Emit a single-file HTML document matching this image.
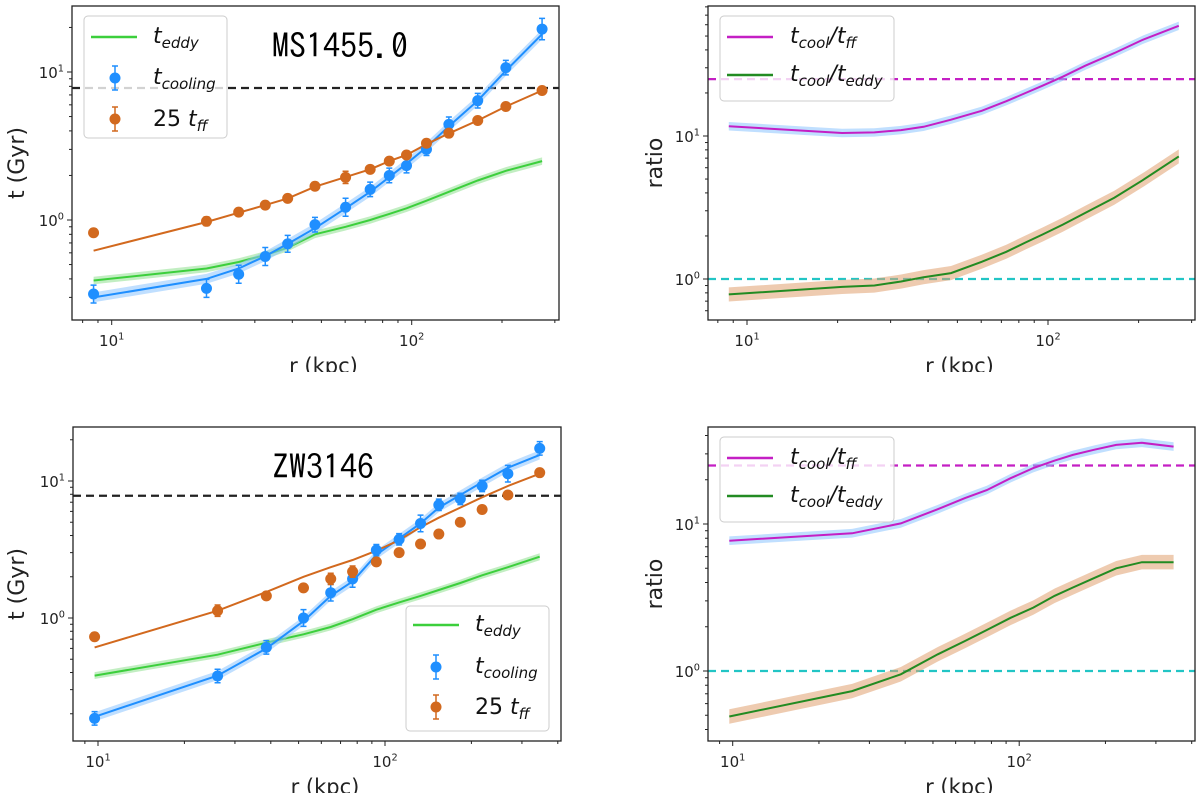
<!DOCTYPE html>
<html><head><meta charset="utf-8">
<style>
html,body{margin:0;padding:0;background:#fff;}
svg{display:block;}
text{font-family:"DejaVu Sans","Liberation Sans",sans-serif;}
</style></head>
<body>
<svg id="fig" xmlns="http://www.w3.org/2000/svg" width="1200" height="793" viewBox="0 0 1200 793"></svg>
<script>
// ---------- DATA ----------
const R1 = [8.7,20.7,26.5,32.5,38.6,47.6,60.2,72.7,84.2,96.1,112,133,166,206,272];
const cool1 = [0.316,0.345,0.43,0.567,0.69,0.93,1.22,1.61,2.0,2.33,3.0,4.43,6.4,10.7,19.5];
const coolErr1 = [0.15,0.15,0.15,0.15,0.14,0.12,0.15,0.12,0.12,0.12,0.1,0.12,0.12,0.12,0.18];
const ff1 = [0.82,0.98,1.13,1.26,1.40,1.69,1.94,2.2,2.5,2.75,3.3,3.86,4.7,5.85,7.5];
const ffErr1 = [0.0,0.07,0.03,0.04,0.04,0.04,0.1,0.04,0.04,0.05,0.03,0.03,0.03,0.03,0.03];
const coolFit1 = [0.30,0.40,0.47,0.57,0.69,0.88,1.2,1.55,1.95,2.4,3.1,4.3,6.4,10.2,18];
const ffFit1 = [0.62,0.97,1.12,1.26,1.40,1.68,1.95,2.2,2.5,2.75,3.25,3.85,4.7,5.85,7.5];
const eddy1 = [0.39,0.47,0.52,0.58,0.65,0.80,0.9,1.0,1.1,1.2,1.35,1.55,1.85,2.15,2.5];
const ratioFF2 = [11.7,10.5,10.6,11.0,11.6,13.0,15.0,17.5,20.0,22.5,26,31,38,47,59];
const ratioEddy2 = [0.78,0.88,0.90,0.96,1.03,1.10,1.32,1.55,1.8,2.05,2.4,2.9,3.7,4.9,7.2];

const R3 = [9.73,26.1,38.6,52,64.7,77.1,93.3,112,133,154,183,218,268,346];
const cool3 = [0.185,0.377,0.61,1.0,1.53,1.93,3.13,3.75,4.9,6.7,7.4,9.2,11.3,17.3];
const coolErr3 = [0.12,0.12,0.12,0.15,0.15,0.15,0.1,0.1,0.15,0.1,0.1,0.1,0.15,0.12];
const ff3 = [0.73,1.13,1.45,1.66,1.93,2.18,2.57,3.0,3.47,4.1,5.0,6.2,7.9,11.5];
const ffErr3 = [0.0,0.1,0.0,0.0,0.1,0.1,0.0,0.0,0.0,0.05,0.0,0.0,0.0,0.0];
const coolFit3 = [0.19,0.38,0.60,0.95,1.45,1.85,2.9,3.8,4.9,6.4,7.9,9.8,12.5,15.5];
const ffFit3 = [0.61,1.13,1.55,2.0,2.35,2.65,3.1,3.7,4.6,5.4,6.4,7.6,9.2,11.3];
const eddy3 = [0.38,0.54,0.66,0.76,0.86,0.98,1.15,1.3,1.45,1.6,1.8,2.05,2.35,2.8];
const ratioFF4 = [7.7,8.65,10.1,12.6,15,17,20.5,24,27,29.5,32,34.5,35.7,33.6];
const ratioEddy4 = [0.49,0.73,0.95,1.3,1.6,1.9,2.3,2.7,3.25,3.7,4.3,5.0,5.5,5.5];

const threshTop = 7.8, threshBot = 7.8, ratioFFLine = 25, ratioEddyLine = 1;
const xMajor = [10,100];
const yMajor = [1,10];

// ---------- DRAWING ----------
const NS = "http://www.w3.org/2000/svg";
const fig = document.getElementById('fig');
function mk(tag, attrs, parent){
  const e = document.createElementNS(NS, tag);
  for (const k in attrs) e.setAttribute(k, attrs[k]);
  (parent||fig).appendChild(e);
  return e;
}
function makeAxes(x0,x1,y0,y1,xRef,xDec,yRef,yDec){
  return {x0,x1,y0,y1,
    X: r => xRef + (Math.log10(r)-1)*xDec,
    Y: v => yRef - (Math.log10(v)-1)*yDec};
}
function linePath(ax, xs, ys){
  return xs.map((r,i)=>(i?'L':'M')+ax.X(r).toFixed(1)+','+ax.Y(ys[i]).toFixed(1)).join(' ');
}
function bandPath(ax, xs, ys, rel){
  let d = xs.map((r,i)=>(i?'L':'M')+ax.X(r).toFixed(1)+','+ax.Y(ys[i]*(1+rel)).toFixed(1)).join(' ');
  for (let i=xs.length-1;i>=0;i--) d += ' L'+ax.X(xs[i]).toFixed(1)+','+ax.Y(ys[i]/(1+rel)).toFixed(1);
  return d+' Z';
}
function clipFor(ax, id){
  const cp = mk('clipPath',{id:id});
  mk('rect',{x:ax.x0,y:ax.y0,width:ax.x1-ax.x0,height:ax.y1-ax.y0},cp);
}
function supText(parent, x, y, base, exp, anchor, size){
  const t = mk('text',{x:x,y:y,'font-size':size,'text-anchor':anchor,fill:'#222'},parent);
  t.appendChild(document.createTextNode(base));
  const s = mk('tspan',{'font-size':size*0.65,dy:-size*0.42},t);
  s.textContent = exp;
  return t;
}
function frame(ax, g, ylabel, ylabX){
  const sp = mk('rect',{x:ax.x0,y:ax.y0,width:ax.x1-ax.x0,height:ax.y1-ax.y0,fill:'none',stroke:'#222','stroke-width':1.3},g);
  
  
  for (let d=1; d<=1000; d*=10){
    for (let m=1;m<10;m++){
      const v=m*d, px=ax.X(v);
      if (px<ax.x0-0.5||px>ax.x1+0.5) continue;
      const len = m===1?5:3;
      const tk = mk('line',{x1:px,x2:px,y1:ax.y1,y2:ax.y1+len,stroke:'#222','stroke-width':1},g);
      
      
    }
  }
  xMajor.forEach(v=>{
    const t = supText(g, ax.X(v), ax.y1+26, '10', String(Math.round(Math.log10(v))), 'middle', 15);
    
    
  });
  for (let d=0.01; d<=1000; d*=10){
    for (let m=1;m<10;m++){
      const v=m*d, py=ax.Y(v);
      if (py<ax.y0-0.5||py>ax.y1+0.5) continue;
      const len = m===1?5:3;
      const tk = mk('line',{x1:ax.x0-len,x2:ax.x0,y1:py,y2:py,stroke:'#222','stroke-width':1},g);
      
      
    }
  }
  yMajor.forEach(v=>{
    const py = ax.Y(v);
    if (py<ax.y0||py>ax.y1) return;
    const t = supText(g, ax.x0-8, py+6, '10', String(Math.round(Math.log10(v))), 'end', 15);
    
    
  });
  const cx = (ax.x0+ax.x1)/2+8;
  const xl = mk('text',{x:cx,y:ax.y1+53,'font-size':21,'text-anchor':'middle',fill:'#222'},g);
  xl.textContent = 'r (kpc)';
  
  
  const cy = (ax.y0+ax.y1)/2;
  const yl = mk('text',{x:ylabX,y:cy,'font-size':22,'text-anchor':'middle',fill:'#222',transform:'rotate(-90 '+ylabX+' '+cy+')'},g);
  yl.textContent = ylabel;
  
  
}
function hdash(ax, g, v, color, name){
  const l = mk('line',{x1:ax.x0,x2:ax.x1,y1:ax.Y(v),y2:ax.Y(v),stroke:color,'stroke-width':2.2,'stroke-dasharray':'8,5'},g);
  
  
}
function errPoints(ax, g, xs, ys, errs, color, name){
  xs.forEach((r,i)=>{
    const px=ax.X(r), py=ax.Y(ys[i]);
    const e = errs[i];
    if (e>0){
      const ya=ax.Y(ys[i]*(1+e)), yb=ax.Y(ys[i]/(1+e));
      const eb = mk('path',{d:`M${px},${ya} L${px},${yb} M${px-3},${ya} L${px+3},${ya} M${px-3},${yb} L${px+3},${yb}`,stroke:color,'stroke-width':1.5,fill:'none'},g);
      
      
    }
    const c = mk('circle',{cx:px,cy:py,r:5.5,fill:color},g);
    
    
  });
}
function series(ax, g, xs, ys, color, bandColor, rel, w, name){
  const b = mk('path',{d:bandPath(ax,xs,ys,rel),fill:bandColor,opacity:0.55,stroke:'none'},g);
  
  
  const l = mk('path',{d:linePath(ax,xs,ys),fill:'none',stroke:color,'stroke-width':w},g);
  
  
}
function legendBox(g,x,y,w,h){
  const b = mk('rect',{x:x,y:y,width:w,height:h,rx:4,fill:'#fff','fill-opacity':0.8,stroke:'#ccc','stroke-width':1},g);
  
  
}
function mathLabel(g,x,y,pre,main,sub,name){
  const t = mk('text',{x:x,y:y,'font-size':22,fill:'#111'},g);
  if (pre) t.appendChild(document.createTextNode(pre));
  const m = mk('tspan',{'font-style':'italic'},t); m.textContent = main;
  const s = mk('tspan',{'font-style':'italic','font-size':15,dy:5},t); s.textContent = sub;
  
  
}
function ratioLabel(g,x,y,sub2,name){
  const t = mk('text',{x:x,y:y,'font-size':22,fill:'#111','font-style':'italic'},g);
  t.appendChild(document.createTextNode('t'));
  const a = mk('tspan',{'font-size':15,dy:5},t); a.textContent='cool';
  const b = mk('tspan',{dy:-5},t); b.textContent='/t';
  const c = mk('tspan',{'font-size':15,dy:5},t); c.textContent=sub2;
  
  
}
function legSwatchLine(g,x,y,color,name){
  const l = mk('line',{x1:x,x2:x+46,y1:y,y2:y,stroke:color,'stroke-width':2.5},g);
  
  
}
function legSwatchPoint(g,x,y,color,name){
  const p = mk('path',{d:`M${x},${y-12} L${x},${y+12} M${x-3},${y-12} L${x+3},${y-12} M${x-3},${y+12} L${x+3},${y+12}`,stroke:color,'stroke-width':1.5},g);
  
  
  const c = mk('circle',{cx:x,cy:y,r:5.5,fill:color},g);
  
  
}
function titleText(g,x,y,str){
  const t = mk('text',{x:x,y:y,'text-anchor':'middle',fill:'#000',style:'font-family:"IPAGothic","Noto Sans CJK JP",monospace;font-size:34px;'},g);
  t.textContent=str;
  
  
}

const BLUE='#1f8fff', ORANGE='#d2691e', LGREEN='#3ccf3c', DGREEN='#228b22', MAG='#c41fc4', CYAN='#22c5c5';

// ---------- Panel 1 ----------
(function(){
  const ax = makeAxes(72,559,6,320,111.7,300,72,148);
  const g = mk('g',{});  
  clipFor(ax,'c1');
  const pg = mk('g',{'clip-path':'url(#c1)'},g);
  hdash(ax,pg,threshTop,'#222','threshold-line');
  series(ax,pg,R1,eddy1,LGREEN,'#8fe08f',0.06,2,'t-eddy');
  series(ax,pg,R1,coolFit1,BLUE,'#8cc4ff',0.08,2,'t-cooling-fit');
  const fl = mk('path',{d:linePath(ax,R1,ffFit1),fill:'none',stroke:ORANGE,'stroke-width':2},pg);
   
  errPoints(ax,pg,R1,cool1,coolErr1,BLUE,'t-cooling');
  errPoints(ax,pg,R1,ff1,ffErr1,ORANGE,'tff');
  legendBox(g,84,16,143,122);
  legSwatchLine(g,91,37,LGREEN,'legend-teddy-swatch');
  mathLabel(g,153,43,'','t','eddy','legend-teddy');
  legSwatchPoint(g,115,78,BLUE,'legend-tcooling-swatch');
  mathLabel(g,153,84,'','t','cooling','legend-tcooling');
  legSwatchPoint(g,115,119,ORANGE,'legend-tff-swatch');
  mathLabel(g,153,126,'25 ','t','ff','legend-tff');
  titleText(g,340,58,'MS1455.0');
  frame(ax,g,'t (Gyr)',24);
})();

// ---------- Panel 2 ----------
(function(){
  const ax = makeAxes(708,1195,6,320,747,301,136,143);
  const g = mk('g',{});  
  clipFor(ax,'c2');
  const pg = mk('g',{'clip-path':'url(#c2)'},g);
  hdash(ax,pg,ratioFFLine,MAG,'ratio-25-line');
  hdash(ax,pg,ratioEddyLine,CYAN,'ratio-1-line');
  series(ax,pg,R1,ratioFF2,MAG,'#8cc4ff',0.07,2,'ratio-tff');
  series(ax,pg,R1,ratioEddy2,DGREEN,'#e0a070',0.12,2,'ratio-teddy');
  legendBox(g,720,16,174,85);
  legSwatchLine(g,727,37,MAG,'legend-ratio-tff-swatch');
  ratioLabel(g,790,43,'ff','legend-ratio-tff');
  legSwatchLine(g,727,75,DGREEN,'legend-ratio-teddy-swatch');
  ratioLabel(g,790,81,'eddy','legend-ratio-teddy');
  frame(ax,g,'ratio',662);
})();

// ---------- Panel 3 ----------
(function(){
  const ax = makeAxes(73,561,427,741,98,287,481,137);
  const g = mk('g',{});  
  clipFor(ax,'c3');
  const pg = mk('g',{'clip-path':'url(#c3)'},g);
  hdash(ax,pg,threshBot,'#222','threshold-line');
  series(ax,pg,R3,eddy3,LGREEN,'#8fe08f',0.06,2,'t-eddy');
  series(ax,pg,R3,coolFit3,BLUE,'#8cc4ff',0.08,2,'t-cooling-fit');
  const fl = mk('path',{d:linePath(ax,R3,ffFit3),fill:'none',stroke:ORANGE,'stroke-width':2},pg);
   
  errPoints(ax,pg,R3,cool3,coolErr3,BLUE,'t-cooling');
  errPoints(ax,pg,R3,ff3,ffErr3,ORANGE,'tff');
  legendBox(g,406,606,143,125);
  legSwatchLine(g,413,625,LGREEN,'legend-teddy-swatch');
  mathLabel(g,475,631,'','t','eddy','legend-teddy');
  legSwatchPoint(g,436,667,BLUE,'legend-tcooling-swatch');
  mathLabel(g,475,673,'','t','cooling','legend-tcooling');
  legSwatchPoint(g,436,707,ORANGE,'legend-tff-swatch');
  mathLabel(g,475,714,'25 ','t','ff','legend-tff');
  titleText(g,323,479,'ZW3146');
  frame(ax,g,'t (Gyr)',24);
})();

// ---------- Panel 4 ----------
(function(){
  const ax = makeAxes(708,1195,427,741,732.7,286.5,524,147);
  const g = mk('g',{});  
  clipFor(ax,'c4');
  const pg = mk('g',{'clip-path':'url(#c4)'},g);
  hdash(ax,pg,ratioFFLine,MAG,'ratio-25-line');
  hdash(ax,pg,ratioEddyLine,CYAN,'ratio-1-line');
  series(ax,pg,R3,ratioFF4,MAG,'#8cc4ff',0.07,2,'ratio-tff');
  series(ax,pg,R3,ratioEddy4,DGREEN,'#e0a070',0.12,2,'ratio-teddy');
  legendBox(g,720,437,174,85);
  legSwatchLine(g,727,458,MAG,'legend-ratio-tff-swatch');
  ratioLabel(g,790,464,'ff','legend-ratio-tff');
  legSwatchLine(g,727,496,DGREEN,'legend-ratio-teddy-swatch');
  ratioLabel(g,790,502,'eddy','legend-ratio-teddy');
  frame(ax,g,'ratio',662);
})();

const wb = mk('rect',{x:0,y:372,width:1200,height:30,fill:'#fff'});


</script>
</body></html>
